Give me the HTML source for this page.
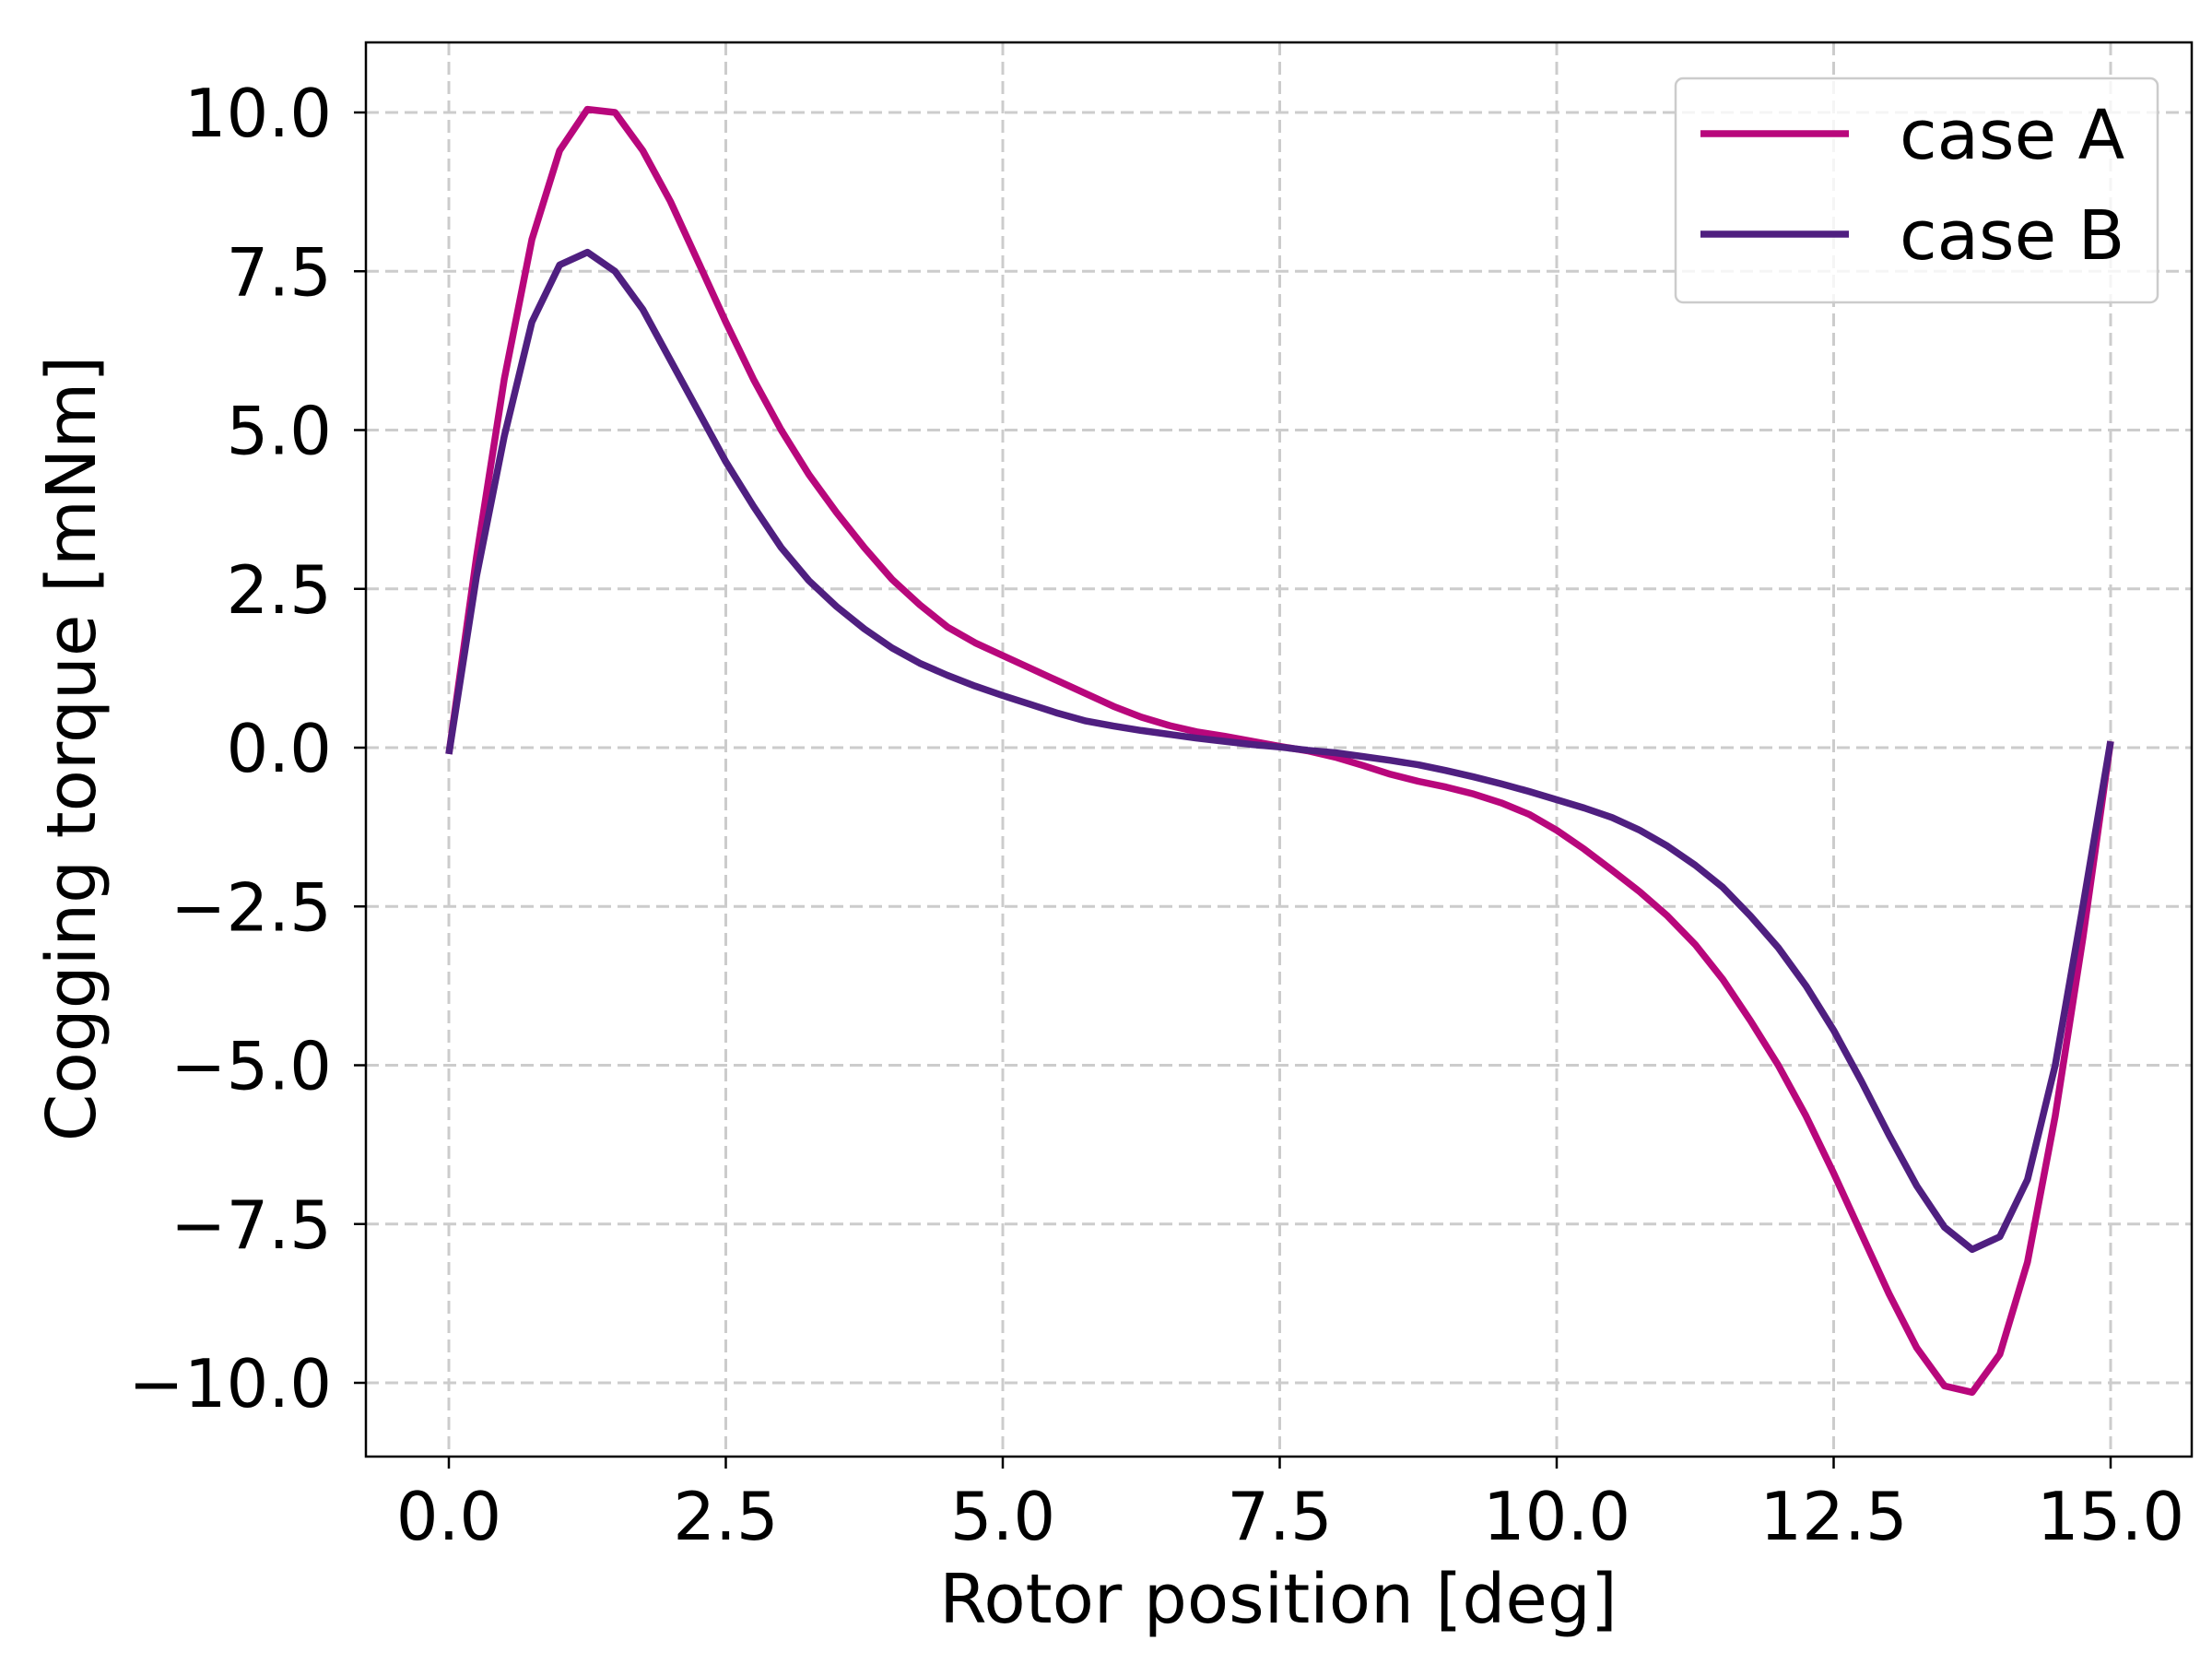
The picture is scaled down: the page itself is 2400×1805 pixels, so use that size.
<!DOCTYPE html>
<html><head><meta charset="utf-8"><style>
html,body{margin:0;padding:0;background:#fff;}
svg text{font-family:"DejaVu Sans","Liberation Sans",sans-serif;fill:#000;}
</style></head><body>
<svg id="chart" width="2400" height="1800" viewBox="0 0 2400 1800" xmlns="http://www.w3.org/2000/svg">
<g id="grid"></g>
<g id="series"></g>
<rect x="397" y="46" width="1981" height="1534" fill="none" stroke="#000" stroke-width="2.5"/>
<g id="ticks"></g>
<text x="1387" y="1760" font-size="74" text-anchor="middle">Rotor position [deg]</text>
<text transform="translate(103,812) rotate(-90)" font-size="74" text-anchor="middle">Cogging torque [mNm]</text>
<g>
<rect x="1818" y="85" width="523" height="243" rx="8" fill="#fff" fill-opacity="0.8" stroke="#ccc" stroke-width="2.5"/>
<line x1="1845" y1="145" x2="2006" y2="145" stroke="#b8077c" stroke-width="7.5"/>
<text x="2061" y="172" font-size="74">case A</text>
<line x1="1845" y1="254" x2="2006" y2="254" stroke="#4f1f80" stroke-width="7.5"/>
<text x="2061" y="281" font-size="74">case B</text>
</g>
</svg>
<script>
const xValues = [0,0.25,0.5,0.75,1,1.25,1.5,1.75,2,2.25,2.5,2.75,3,3.25,3.5,3.75,4,4.25,4.5,4.75,5,5.25,5.5,5.75,6,6.25,6.5,6.75,7,7.25,7.5,7.75,8,8.25,8.5,8.75,9,9.25,9.5,9.75,10,10.25,10.5,10.75,11,11.25,11.5,11.75,12,12.25,12.5,12.75,13,13.25,13.5,13.75,14,14.25,14.5,14.75,15];
const caseA = [-0.1,3.0,5.8,8.0,9.4,10.05,10.0,9.4,8.6,7.65,6.7,5.8,5.0,4.3,3.7,3.15,2.65,2.25,1.9,1.65,1.45,1.25,1.05,0.85,0.65,0.48,0.35,0.25,0.18,0.1,0.02,-0.05,-0.15,-0.28,-0.42,-0.53,-0.62,-0.73,-0.87,-1.05,-1.3,-1.6,-1.93,-2.27,-2.65,-3.1,-3.65,-4.3,-5.0,-5.8,-6.7,-7.65,-8.6,-9.45,-10.05,-10.15,-9.55,-8.1,-5.8,-3.0,0.1];
const caseB = [-0.1,2.7,4.9,6.7,7.6,7.8,7.5,6.9,6.1,5.3,4.5,3.8,3.15,2.63,2.22,1.87,1.57,1.33,1.14,0.97,0.82,0.68,0.54,0.42,0.34,0.27,0.21,0.15,0.1,0.05,0.01,-0.04,-0.08,-0.14,-0.2,-0.27,-0.36,-0.46,-0.57,-0.69,-0.82,-0.95,-1.1,-1.3,-1.55,-1.85,-2.2,-2.65,-3.15,-3.75,-4.45,-5.25,-6.1,-6.9,-7.55,-7.9,-7.7,-6.8,-5.0,-2.5,0.1];
const xTicks = [0,2.5,5,7.5,10,12.5,15];
const xTickLabels = ["0.0","2.5","5.0","7.5","10.0","12.5","15.0"];
const yTicks = [-10,-7.5,-5,-2.5,0,2.5,5,7.5,10];
const yTickLabels = ["\u221210.0","\u22127.5","\u22125.0","\u22122.5","0.0","2.5","5.0","7.5","10.0"];

const NS = "http://www.w3.org/2000/svg";
function sx(v){ return 487 + v * (2290 - 487) / 15; }
function sy(v){ return 811 - v * 68.9; }
function mk(tag, attrs, parent){ const e=document.createElementNS(NS,tag); for(const k in attrs) e.setAttribute(k,attrs[k]); parent.appendChild(e); return e; }
const grid=document.getElementById('grid'), ticks=document.getElementById('ticks'), series=document.getElementById('series');
xTicks.forEach((t,i)=>{
  const g=mk('line',{x1:sx(t),x2:sx(t),y1:46,y2:1580,stroke:'#cccccc','stroke-width':3,'stroke-dasharray':'14,7'},grid);
  
  
  const tk=mk('line',{x1:sx(t),x2:sx(t),y1:1580,y2:1593,stroke:'#000','stroke-width':2.5},ticks);
  
  
  const tl=mk('text',{x:sx(t),y:1670,'font-size':72,'text-anchor':'middle'},ticks);
  tl.textContent=xTickLabels[i];
  
  
});
yTicks.forEach((t,i)=>{
  const g=mk('line',{x1:397,x2:2378,y1:sy(t),y2:sy(t),stroke:'#cccccc','stroke-width':3,'stroke-dasharray':'14,7'},grid);
  
  
  const tk=mk('line',{x1:384,x2:397,y1:sy(t),y2:sy(t),stroke:'#000','stroke-width':2.5},ticks);
  
  
  const tl=mk('text',{x:360,y:sy(t)+26,'font-size':72,'text-anchor':'end'},ticks);
  tl.textContent=yTickLabels[i];
  
  
});
function drawLine(vals,color,name){
  const pts=vals.map((v,i)=>sx(xValues[i]).toFixed(1)+','+sy(v).toFixed(1)).join(' ');
  const p=mk('polyline',{points:pts,fill:'none',stroke:color,'stroke-width':7.5,'stroke-linejoin':'round'},series);
  
  
}
drawLine(caseA,'#b8077c','line-case-a');
drawLine(caseB,'#4f1f80','line-case-b');
</script>
</body></html>
